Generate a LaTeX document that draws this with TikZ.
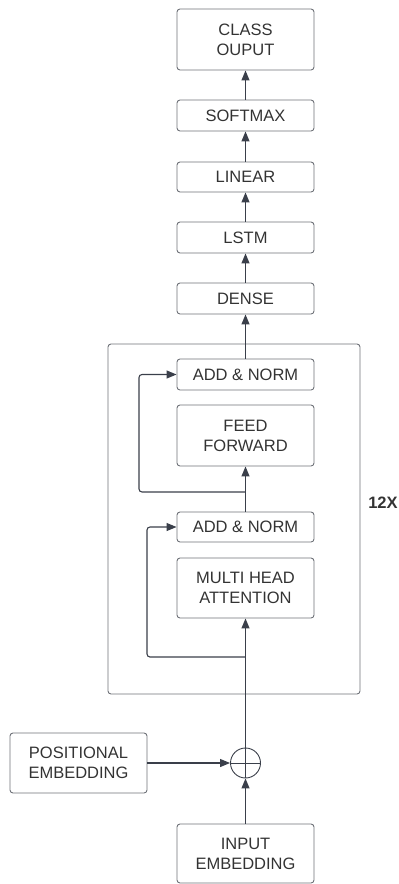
\documentclass[tikz,border=0pt]{standalone}
\usepackage{fontspec}
\setmainfont{Liberation Sans}
\usetikzlibrary{arrows.meta}
\definecolor{boxline}{HTML}{6E7178}
\definecolor{conn}{HTML}{3A3F4A}
\definecolor{txt}{HTML}{333333}
\tikzset{
  blk/.style={draw=boxline, line width=0.9pt, rounded corners=3pt, minimum width=137pt,
    align=center, text=txt, font=\fontsize{16.5}{20}\selectfont, inner sep=0pt},
  conn/.style={draw=conn, line width=1.1pt, -{Triangle[length=10pt,width=8pt]}},
  plain/.style={draw=conn, line width=1.1pt},
}
\begin{document}
\begin{tikzpicture}[x=1pt,y=-1pt]
\useasboundingbox (0,0) rectangle (399,884);
% outer 12X box
\draw[boxline, line width=0.9pt, rounded corners=3pt] (108,344) rectangle (360,694);
\node[font=\fontsize{16.5}{20}\selectfont\bfseries, text=txt] (rep) at (383,503) {12X};

\node[blk, minimum height=61pt] (out) at (245.5,39.5) {CLASS\\OUPUT};
\node[blk, minimum height=31pt] (soft) at (245.5,115.5) {SOFTMAX};
\node[blk, minimum height=30pt] (lin) at (245.5,177) {LINEAR};
\node[blk, minimum height=31pt] (lstm) at (245.5,237.5) {LSTM};
\node[blk, minimum height=31pt] (dense) at (245.5,298.5) {DENSE};
\node[blk, minimum height=31pt] (an2) at (245.5,374.5) {ADD \& NORM};
\node[blk, minimum height=61pt] (ff) at (245.5,435.5) {FEED\\FORWARD};
\node[blk, minimum height=30pt] (an1) at (245.5,527) {ADD \& NORM};
\node[blk, minimum height=60pt] (mha) at (245.5,588) {MULTI HEAD\\ATTENTION};
\node[draw=conn, line width=0.9pt, circle, minimum size=30pt, inner sep=0pt] (plus) at (245.5,763) {};
\draw[conn, line width=0.9pt, -] (plus.north) -- (plus.south);
\draw[conn, line width=0.9pt, -] (plus.west) -- (plus.east);
\node[blk, minimum height=60pt] (pos) at (78.5,763) {POSITIONAL\\EMBEDDING};
\node[blk, minimum height=59pt] (inp) at (245.5,853.5) {INPUT\\EMBEDDING};

\coordinate (j2) at (245.5,492);
\coordinate (k2) at (139,492);
\coordinate (j1) at (245.5,657);
\coordinate (k1) at (147,657);

\draw[conn] (dense) -- (lstm);
\draw[conn] (lstm) -- (lin);
\draw[conn] (lin) -- (soft);
\draw[conn] (soft) -- (out);
\draw[conn] (an2) -- (dense);
\draw[conn] (an1) -- (ff);
\draw[conn, rounded corners=3pt] (j2) -- (k2) |- (an2.west);
\draw[conn] (plus) -- (mha);
\draw[conn, rounded corners=3pt] (j1) -- (k1) |- (an1.west);
\draw[conn] (pos) -- (plus);
\draw[conn] (inp) -- (plus);
\end{tikzpicture}
\end{document}
